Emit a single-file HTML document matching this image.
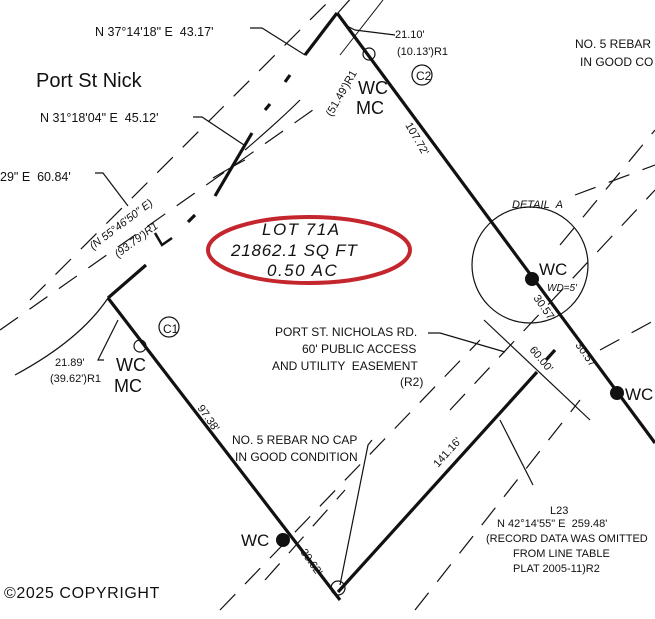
<!DOCTYPE html>
<html><head><style>
html,body{margin:0;padding:0;background:#fff;}
svg{display:block;}
text{font-family:"Liberation Sans",sans-serif;fill:#111;}
</style></head><body>
<svg width="655" height="619" viewBox="0 0 655 619" xmlns="http://www.w3.org/2000/svg">
<g stroke="#111" fill="none">
<g stroke-width="1.2" stroke-dasharray="22,14">
<line x1="0" y1="330" x2="320" y2="105"/>
<line x1="30" y1="300" x2="330" y2="0"/>
<line x1="337" y1="14" x2="385" y2="-40"/>
<line x1="560" y1="245" x2="655" y2="130"/>
<line x1="575" y1="195" x2="655" y2="165"/>
<line x1="450" y1="410" x2="655" y2="190"/>
<line x1="220" y1="610" x2="480" y2="340"/>
<line x1="415" y1="610" x2="580" y2="400"/>
<line x1="265" y1="580" x2="345" y2="490"/>
<line x1="600" y1="350" x2="655" y2="320"/>
</g>
<line x1="340" y1="55" x2="383" y2="0" stroke-width="1"/>
<g stroke-width="3.2">
<line x1="305" y1="55" x2="337" y2="13"/>
<line x1="337" y1="13" x2="655" y2="443"/>
<line x1="108" y1="298" x2="340" y2="600"/>
<line x1="108" y1="298" x2="146" y2="265"/>
<line x1="338" y1="592" x2="537" y2="372"/>
<line x1="215" y1="196" x2="252" y2="133"/>
<line x1="265" y1="110" x2="270" y2="104"/>
<line x1="285" y1="82" x2="290" y2="75"/>
<line x1="188" y1="222" x2="195" y2="215"/>
<line x1="546" y1="360" x2="555" y2="350"/>
</g>
<polyline points="155,233 162,245 172,238" stroke-width="2.5"/>
<g stroke-width="1.2">
<polyline points="250,28 262,28 305,55"/>
<polyline points="193,117 202,117 244,145"/>
<polyline points="95,173 103,173 128,206"/>
<polyline points="395,35 355,30 345,25"/>
<polyline points="104,360 98,360 118,320"/>
<polyline points="428,333 440,333 505,352"/>
<polyline points="372,440 368,445 340,585"/>
<line x1="500" y1="420" x2="533" y2="485"/>
<line x1="484" y1="320" x2="590" y2="420"/>
<path d="M245,150 Q280,120 300,100"/>
<path d="M213,178 Q235,165 245,160"/>
<path d="M15,375 Q80,340 108,298"/>
</g>
<circle cx="530" cy="265" r="58" stroke-width="1.2"/>
<circle cx="369" cy="54" r="6" stroke-width="1.2"/>
<circle cx="140" cy="346" r="6" stroke-width="1.2"/>
<circle cx="338" cy="588" r="7" stroke-width="1.2"/>
<circle cx="422" cy="75" r="10" stroke-width="1.2"/>
<circle cx="169" cy="327" r="10" stroke-width="1.2"/>
<ellipse cx="309" cy="250" rx="101" ry="33" stroke="#c4262e" stroke-width="4"/>
</g>
<g fill="#111">
<circle cx="532" cy="279" r="7"/>
<circle cx="617" cy="393" r="7"/>
<circle cx="283" cy="540" r="7"/>
</g>
<text x="95" y="36" font-size="12.5">N 37°14'18" E &#160;43.17'</text>
<text x="36" y="87" font-size="20">Port St Nick</text>
<text x="40" y="122" font-size="12.5">N 31°18'04" E &#160;45.12'</text>
<text x="0" y="181" font-size="12.5">29" E &#160;60.84'</text>
<text x="0" y="0" font-size="11" font-style="italic" transform="translate(93,250) rotate(-37)">(N 55°46'50" E)</text>
<text x="0" y="0" font-size="11" font-style="italic" transform="translate(118,258) rotate(-37)">(93.79')R1</text>
<text x="395" y="38" font-size="11">21.10'</text>
<text x="397" y="55" font-size="11">(10.13')R1</text>
<text x="416" y="80" font-size="12">C2</text>
<text x="358" y="94" font-size="18">WC</text>
<text x="356" y="114" font-size="18">MC</text>
<text x="575" y="48" font-size="12">NO. 5 REBAR</text>
<text x="580" y="66" font-size="12">IN GOOD CO</text>
<text x="0" y="0" font-size="11" transform="translate(405,125) rotate(60)">107.72'</text>
<text x="316" y="110" font-size="11" transform="rotate(-60 330 100)">(51.49')R1</text>
<text x="512" y="208" font-size="11" font-style="italic">DETAIL &#160;A</text>
<text x="539" y="275" font-size="17">WC</text>
<text x="547" y="291" font-size="10" font-style="italic">WD=5'</text>
<text x="0" y="0" font-size="11" transform="translate(533,298) rotate(55)">30.57'</text>
<text x="0" y="0" font-size="11" transform="translate(575,345) rotate(55)">30.57'</text>
<text x="0" y="0" font-size="11" transform="translate(529,350) rotate(50)">60.00'</text>
<text x="625" y="400" font-size="17">WC</text>
<text x="262" y="235" font-size="17" font-style="italic" letter-spacing="1.5">LOT 71A</text>
<text x="231" y="256" font-size="17" font-style="italic" letter-spacing="0.8">21862.1 SQ FT</text>
<text x="267" y="276" font-size="17" font-style="italic" letter-spacing="1.5">0.50 AC</text>
<text x="163" y="333" font-size="12">C1</text>
<text x="275" y="336" font-size="12">PORT ST. NICHOLAS RD.</text>
<text x="302" y="353" font-size="12">60' PUBLIC ACCESS</text>
<text x="272" y="370" font-size="12">AND UTILITY &#160;EASEMENT</text>
<text x="400" y="386" font-size="12">(R2)</text>
<text x="55" y="366" font-size="11">21.89'</text>
<text x="50" y="382" font-size="11">(39.62')R1</text>
<text x="116" y="371" font-size="18">WC</text>
<text x="114" y="392" font-size="18">MC</text>
<text x="0" y="0" font-size="11" transform="translate(197,408) rotate(55)">97.38'</text>
<text x="232" y="444" font-size="12">NO. 5 REBAR NO CAP</text>
<text x="235" y="461" font-size="12">IN GOOD CONDITION</text>
<text x="0" y="0" font-size="11" transform="translate(438,468) rotate(-48)">141.16'</text>
<text x="550" y="514" font-size="11">L23</text>
<text x="497" y="527" font-size="11">N 42°14'55" E &#160;259.48'</text>
<text x="486" y="542" font-size="11">(RECORD DATA WAS OMITTED</text>
<text x="513" y="557" font-size="11">FROM LINE TABLE</text>
<text x="513" y="572" font-size="11">PLAT 2005-11)R2</text>
<text x="241" y="546" font-size="17">WC</text>
<text x="0" y="0" font-size="11" transform="translate(300,552) rotate(55)">30.62'</text>
<text x="4" y="598" font-size="16" fill="#333" letter-spacing="0.6">©2025 COPYRIGHT</text>
</svg>
</body></html>
